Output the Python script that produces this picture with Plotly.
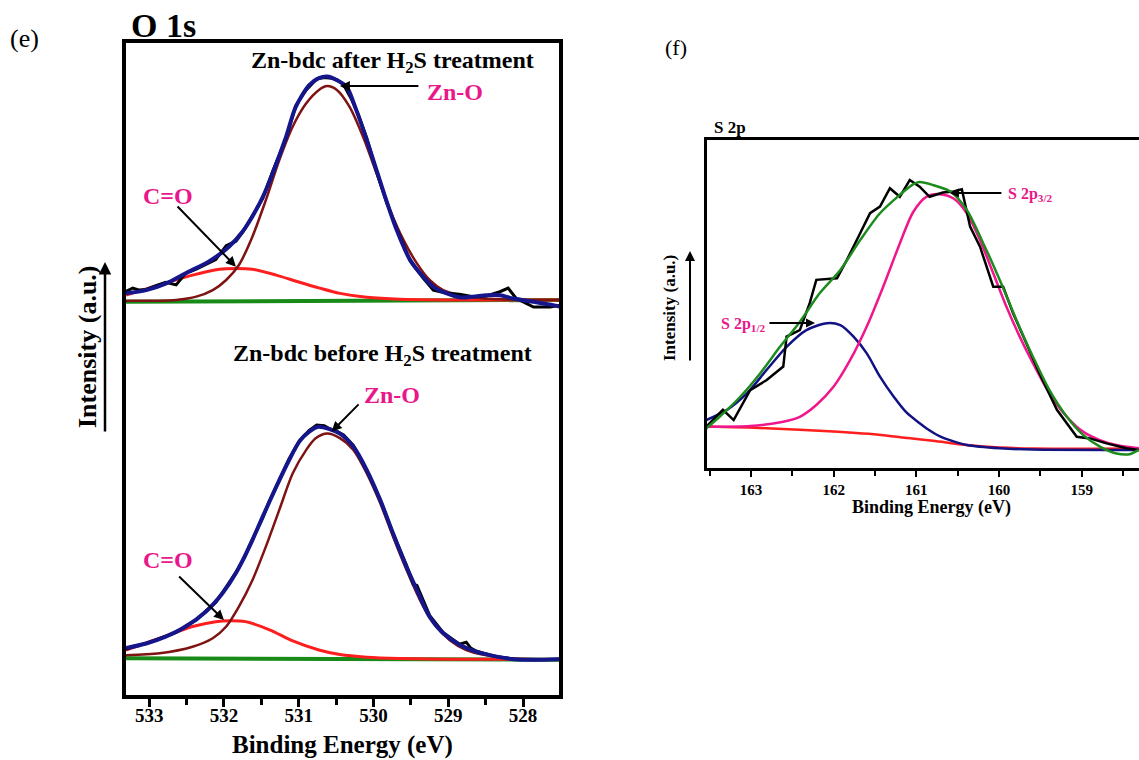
import plotly.graph_objects as go

# ---------------- Panel (e): O 1s ----------------
# after H2S treatment (upper spectrum)
after_base_x = [533.31, 527.50]
after_base_y = [60.3, 60.6]

after_zno_x = [533.31, 532.64, 532.37, 532.15, 531.97, 531.80, 531.62, 531.44, 531.26, 531.08,
               530.90, 530.73, 530.62, 530.49, 530.32, 530.14, 529.96, 529.78, 529.60, 529.42,
               529.25, 529.07, 528.85, 528.53, 528.00, 527.50]
after_zno_y = [60.45, 60.6, 61.1, 62.1, 63.65, 65.95, 70.3, 75.9, 82.05, 87.2,
               90.75, 92.8, 93.4, 92.8, 90.2, 85.6, 80.0, 74.4, 69.8, 66.2,
               63.65, 62.1, 61.35, 60.8, 60.6, 60.6]

after_co_x = [533.31, 532.86, 532.42, 532.06, 531.84, 531.62, 531.30, 530.99, 530.72, 530.45,
              530.09, 529.65, 529.00, 527.50]
after_co_y = [61.35, 62.9, 64.4, 65.3, 65.4, 65.3, 64.4, 63.3, 62.4, 61.6,
              61.0, 60.7, 60.6, 60.6]

after_env_x = [533.31, 533.04, 532.78, 532.51, 532.20, 531.93, 531.75, 531.62, 531.48, 531.35,
               531.17, 531.04, 530.86, 530.73, 530.62, 530.49, 530.36, 530.23, 530.09, 529.96,
               529.83, 529.69, 529.51, 529.34, 529.20, 529.02, 528.85, 528.67, 528.49, 528.31,
               528.13, 527.86, 527.60, 527.48]
after_env_y = [61.6, 62.1, 63.1, 64.7, 66.5, 68.8, 71.1, 73.4, 76.4, 80.0,
               85.6, 90.2, 93.55, 94.6, 94.85, 94.3, 93.3, 89.7, 85.1, 80.5,
               75.9, 71.3, 66.7, 64.2, 62.6, 61.6, 61.0, 61.1, 61.3, 61.3,
               60.8, 60.3, 59.8, 59.5]

after_raw_x = [533.31, 533.22, 533.13, 533.04, 532.91, 532.78, 532.64, 532.51, 532.37, 532.24,
               532.11, 531.97, 531.84, 531.75, 531.62, 531.48, 531.35, 531.17, 531.04, 530.90,
               530.76, 530.66, 530.56, 530.49, 530.40, 530.30, 530.20, 530.09, 529.96, 529.83,
               529.69, 529.51, 529.34, 529.20, 529.02, 528.85, 528.67, 528.49, 528.31, 528.20,
               528.09, 527.86, 527.64, 527.48]
after_raw_y = [61.9, 62.4, 62.1, 62.2, 62.8, 63.3, 62.9, 64.7, 65.3, 66.1,
               66.8, 68.9, 69.6, 71.0, 73.6, 76.2, 80.3, 85.4, 90.4, 92.8,
               94.5, 94.7, 94.6, 94.4, 93.6, 91.5, 88.9, 85.4, 80.3, 75.7,
               71.5, 66.6, 64.0, 62.1, 61.6, 61.45, 61.1, 61.2, 61.85, 62.4,
               60.8, 59.5, 59.5, 59.8]

# before H2S treatment (lower spectrum)
before_base_x = [533.31, 527.50]
before_base_y = [5.65, 5.4]

before_zno_x = [533.31, 532.86, 532.42, 532.15, 531.97, 531.80, 531.62, 531.44, 531.26, 531.08,
                530.90, 530.77, 530.62, 530.45, 530.27, 530.09, 529.91, 529.74, 529.56, 529.38,
                529.20, 528.98, 528.76, 528.49, 528.13, 527.50]
before_zno_y = [6.1, 6.4, 7.4, 8.7, 10.5, 13.55, 17.6, 22.75, 28.4, 34.0,
                37.6, 39.4, 40.1, 39.4, 37.6, 34.0, 29.4, 24.3, 19.2, 14.6,
                11.0, 8.4, 6.9, 6.1, 5.6, 5.45]

before_co_x = [533.31, 532.86, 532.42, 532.11, 531.93, 531.71, 531.39, 531.08, 530.73, 530.45,
               530.09, 529.65, 529.00, 527.50]
before_co_y = [6.9, 8.7, 10.5, 11.25, 11.4, 11.25, 10.0, 8.3, 6.9, 6.2,
               5.8, 5.6, 5.5, 5.45]

before_env_x = [533.31, 533.04, 532.78, 532.51, 532.24, 532.02, 531.84, 531.66, 531.48, 531.30,
                531.13, 530.99, 530.86, 530.74, 530.58, 530.45, 530.27, 530.09, 529.91, 529.74,
                529.56, 529.42, 529.25, 529.07, 528.85, 528.62, 528.40, 528.13, 527.86, 527.48]
before_env_y = [7.2, 7.9, 8.95, 10.5, 12.8, 15.6, 18.7, 22.75, 27.4, 31.95,
                36.0, 38.9, 40.4, 41.15, 40.75, 40.1, 38.1, 34.5, 29.9, 24.8,
                19.7, 16.1, 12.0, 9.5, 7.7, 6.6, 6.0, 5.5, 5.4, 5.5]

before_raw_x = [533.31, 533.20, 533.04, 532.90, 532.78, 532.64, 532.51, 532.37, 532.24, 532.11,
                532.02, 531.84, 531.72, 531.66, 531.48, 531.40, 531.30, 531.13, 530.99, 530.86,
                530.76, 530.66, 530.58, 530.50, 530.40, 530.27, 530.09, 529.91, 529.74, 529.56,
                529.47, 529.42, 529.25, 529.07, 528.85, 528.76, 528.70, 528.62, 528.40, 528.13,
                527.86, 527.48]
before_raw_y = [7.0, 7.5, 7.9, 8.5, 9.0, 9.6, 10.6, 11.5, 12.9, 14.2,
                15.7, 18.8, 21.2, 22.9, 27.2, 29.6, 32.0, 36.2, 39.0, 40.6,
                41.4, 41.3, 40.8, 40.5, 39.9, 38.3, 34.4, 29.9, 24.8, 19.9,
                17.0, 16.8, 12.2, 9.6, 7.8, 8.1, 7.2, 6.7, 6.0, 5.5,
                5.4, 5.5]

# ---------------- Panel (f): S 2p ----------------
s_bg_x = [163.54, 162.81, 162.00, 161.40, 161.10, 160.80, 160.39, 159.99, 159.59, 158.31]
s_bg_y = [12.7, 12.2, 11.2, 10.1, 9.2, 8.4, 7.1, 6.3, 6.0, 6.0]

s_p12_x = [163.54, 163.29, 163.05, 162.81, 162.57, 162.33, 162.08, 161.92, 161.76, 161.60,
           161.44, 161.28, 161.12, 160.96, 160.88, 160.72, 160.55, 160.39, 159.99, 159.59, 158.31]
s_p12_y = [14.7, 17.8, 22.8, 30.0, 37.0, 42.1, 44.2, 43.6, 40.1, 35.0,
           27.9, 22.0, 17.0, 13.7, 12.2, 9.8, 8.2, 7.1, 6.1, 5.7, 5.6]

s_p32_x = [163.54, 163.01, 162.61, 162.41, 162.21, 162.00, 161.80, 161.60, 161.40, 161.20,
           161.04, 160.88, 160.72, 160.55, 160.39, 160.23, 160.07, 159.91, 159.75, 159.59,
           159.39, 159.18, 158.98, 158.78, 158.58, 158.31]
s_p32_y = [12.7, 12.9, 14.2, 15.7, 19.3, 24.9, 33.0, 43.2, 55.4, 68.5,
           78.0, 82.7, 83.5, 82.2, 77.7, 69.5, 59.4, 49.2, 40.1, 32.0,
           22.8, 15.7, 11.1, 8.6, 7.1, 6.1]

s_env_x = [163.54, 163.38, 163.13, 162.89, 162.65, 162.41, 162.17, 161.92, 161.68, 161.44,
           161.20, 161.04, 160.96, 160.80, 160.59, 160.39, 160.19, 159.99, 159.79, 159.59,
           159.39, 159.18, 158.98, 158.78, 158.58, 158.42, 158.31]
s_env_y = [12.2, 15.7, 21.8, 28.9, 37.0, 44.6, 53.3, 60.4, 69.5, 77.7,
           83.3, 86.5, 87.2, 86.3, 84.3, 78.7, 68.5, 57.3, 45.2, 34.0,
           23.8, 15.7, 10.1, 6.6, 4.5, 4.3, 5.6]

s_raw_x = [163.54, 163.34, 163.21, 163.01, 162.81, 162.61, 162.57, 162.41, 162.29, 162.21,
           161.96, 161.84, 161.68, 161.56, 161.44, 161.32, 161.20, 161.08, 160.96, 160.84,
           160.68, 160.55, 160.45, 160.35, 160.23, 160.07, 159.95, 159.83, 159.67, 159.51,
           159.30, 159.18, 159.06, 158.90, 158.70, 158.46, 158.31]
s_raw_y = [12.7, 17.8, 14.7, 23.8, 26.9, 31.0, 40.1, 42.1, 50.3, 57.4,
           57.9, 63.5, 71.6, 77.7, 79.7, 85.3, 82.7, 87.8, 85.8, 82.7,
           84.0, 84.3, 85.0, 73.6, 67.5, 55.3, 55.3, 47.2, 38.1, 28.9,
           17.8, 13.7, 9.6, 9.1, 7.6, 6.1, 5.6]

e_ticks = [533, 532, 531, 530, 529, 528]
f_ticks = [163, 162, 161, 160, 159]

# ---------------- styles ----------------
BLUE_E = "#16168C"
BROWN = "#7F1212"
RED = "#FF1E1E"
GREEN = "#178A17"
PINK_TXT = "#E9178A"
PINK_F = "#F0168C"
BLUE_F = "#121285"
GREEN_F = "#1E8B1E"
SERIF = "Liberation Serif"

W, H = 1139, 760


def px(x):
    return x / W


def py(y):
    return 1 - y / H


fig = go.Figure()


def add(x, y, color, width, axis, shape="spline"):
    fig.add_trace(go.Scatter(x=x, y=y, mode="lines",
                             line=dict(color=color, width=width, shape=shape, smoothing=0.8),
                             xaxis=axis[0], yaxis=axis[1], hoverinfo="skip"))


E = ("x", "y")
F = ("x2", "y2")

for base_x, base_y, co_x, co_y, zno_x, zno_y, raw_x, raw_y, env_x, env_y in [
    (after_base_x, after_base_y, after_co_x, after_co_y, after_zno_x, after_zno_y,
     after_raw_x, after_raw_y, after_env_x, after_env_y),
    (before_base_x, before_base_y, before_co_x, before_co_y, before_zno_x, before_zno_y,
     before_raw_x, before_raw_y, before_env_x, before_env_y),
]:
    add(base_x, base_y, GREEN, 4, E, "linear")
    add(co_x, co_y, RED, 3, E)
    add(zno_x, zno_y, BROWN, 2.5, E)
    add(raw_x, raw_y, "black", 3, E, "linear")
    add(env_x, env_y, BLUE_E, 4, E)

add(s_bg_x, s_bg_y, RED, 2.5, F)
add(s_p12_x, s_p12_y, BLUE_F, 2.5, F)
add(s_p32_x, s_p32_y, PINK_F, 2.5, F)
add(s_raw_x, s_raw_y, "black", 2.5, F, "linear")
add(s_env_x, s_env_y, GREEN_F, 2.5, F)

annotations = []


def text(x, y, s, size, color="black", bold=True, xanchor="center", yanchor="middle", angle=0,
         xref="paper", yref="paper"):
    annotations.append(dict(x=x, y=y, xref=xref, yref=yref, text=s, showarrow=False,
                            xanchor=xanchor, yanchor=yanchor, textangle=angle,
                            font=dict(family=SERIF, size=size, color=color,
                                      weight="bold" if bold else "normal")))


def arrow(tip_x, tip_y, tail_x, tail_y, xr, yr, width=2, size=1.0):
    annotations.append(dict(x=tip_x, y=tip_y, ax=tail_x, ay=tail_y, xref=xr, yref=yr,
                            axref=xr, ayref=yr, text="", showarrow=True, arrowhead=2,
                            arrowsize=size, arrowwidth=width, arrowcolor="black"))


# panel (e) texts
text(px(24), py(38), "(e)", 26, bold=False)
text(px(129), py(26), "O 1s", 34, xanchor="left")
text(px(392), py(62), "Zn-bdc after H<sub>2</sub>S treatment", 24)
text(px(382), py(355), "Zn-bdc before H<sub>2</sub>S treatment", 24)
text(px(455), py(92), "Zn-O", 24, PINK_TXT)
text(px(168), py(196), "C=O", 24, PINK_TXT)
text(px(392), py(395), "Zn-O", 24, PINK_TXT)
text(px(168), py(560), "C=O", 24, PINK_TXT)
text(px(88), py(347), "Intensity (a.u.)", 26, angle=-90)
text(px(342), py(745), "Binding Energy (eV)", 25)
arrow(530.45, 93.4, 529.38, 93.4, "x", "y")
arrow(531.84, 65.7, 532.64, 75.15, "x", "y")
arrow(530.56, 40.4, 530.18, 44.8, "x", "y")
arrow(532.00, 11.5, 532.62, 18.4, "x", "y")
annotations.append(dict(x=px(105), y=py(262), xref="paper", yref="paper", ax=0, ay=171,
                        text="", showarrow=True, arrowhead=2, arrowsize=1, arrowwidth=2.5,
                        arrowcolor="black"))

# panel (f) texts
text(px(676), py(47), "(f)", 22, bold=False)
text(px(712), py(127), "S 2p", 17, xanchor="left")
text(px(1006), py(195), "S 2p<sub>3/2</sub>", 16, PINK_TXT, xanchor="left")
text(px(767), py(325), "S 2p<sub>1/2</sub>", 16, PINK_TXT, xanchor="right")
text(px(670), py(308), "Intensity (a.u.)", 17, angle=-90)
text(px(931), py(507), "Binding Energy (eV)", 18)
arrow(160.594, 83.86, 159.953, 83.86, "x2", "y2", width=1.8)
arrow(162.226, 44.26, 162.795, 44.26, "x2", "y2", width=1.8)
annotations.append(dict(x=px(690), y=py(251), xref="paper", yref="paper", ax=0, ay=111,
                        text="", showarrow=True, arrowhead=2, arrowsize=1, arrowwidth=2,
                        arrowcolor="black"))

tick_e = dict(family=SERIF, size=19, color="black", weight="bold")
tick_f = dict(family=SERIF, size=15, color="black", weight="bold")

fig.update_layout(
    width=W, height=H, margin=dict(l=0, r=0, t=0, b=0),
    paper_bgcolor="white", plot_bgcolor="white", showlegend=False,
    xaxis=dict(domain=[126 / W, 559 / W], range=[533.31, 527.52], anchor="y",
               tickmode="array", tickvals=e_ticks, ticktext=[str(t) for t in e_ticks],
               ticks="outside", ticklen=8, tickwidth=2.5, tickcolor="black",
               ticklabelstandoff=-8,
               minor=dict(tickmode="linear", tick0=528, dtick=0.5, ticks="outside",
                          ticklen=6, tickwidth=2.5, tickcolor="black"),
               showline=True, linewidth=3.5, linecolor="black", mirror=True,
               showgrid=False, zeroline=False, tickfont=tick_e),
    yaxis=dict(domain=[1 - 695 / H, 1 - 43 / H], range=[0, 100], anchor="x",
               showline=True, linewidth=3.5, linecolor="black", mirror=True,
               showticklabels=False, ticks="", showgrid=False, zeroline=False),
    xaxis2=dict(domain=[706.7 / W, 1.0], range=[163.536, 158.307], anchor="y2",
                tickmode="array", tickvals=f_ticks, ticktext=[str(t) for t in f_ticks],
                ticks="outside", ticklen=6, tickwidth=2, tickcolor="black",
                minor=dict(tickmode="linear", tick0=159, dtick=0.5, ticks="outside",
                           ticklen=5, tickwidth=2, tickcolor="black"),
                showline=True, linewidth=3, linecolor="black", mirror=True,
                showgrid=False, zeroline=False, tickfont=tick_f),
    yaxis2=dict(domain=[1 - 468.3 / H, 1 - 140 / H], range=[0, 100], anchor="x2",
                showline=True, linewidth=3, linecolor="black", mirror=False,
                showticklabels=False, ticks="", showgrid=False, zeroline=False),
    annotations=annotations,
)

fig.write_html("out.html")
